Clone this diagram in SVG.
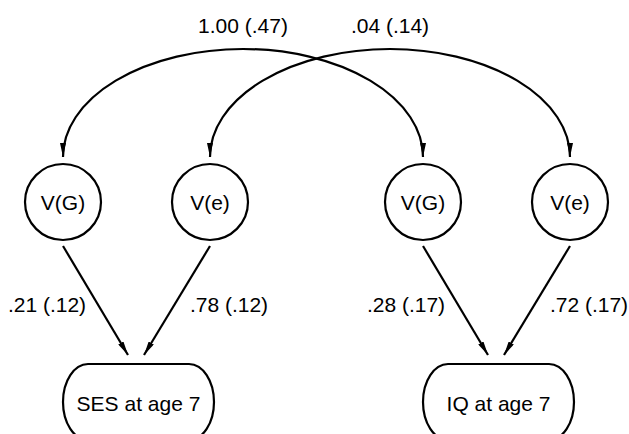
<svg xmlns="http://www.w3.org/2000/svg" width="629" height="434" viewBox="0 0 629 434">
<style>
.n{fill:#fff;stroke:#000;stroke-width:2.2}
.c{fill:none;stroke:#000;stroke-width:2.2}
text{font-family:"Liberation Sans",Arial,sans-serif;font-size:21px;fill:#000}
.m{text-anchor:middle}
</style>
<defs>
<marker id="ah" viewBox="0 0 14 6" refX="14" refY="3" markerWidth="14" markerHeight="6" markerUnits="userSpaceOnUse" orient="auto-start-reverse">
<path d="M0,0 L14,3 L0,6 z" fill="#000"/>
</marker>
</defs>
<rect width="629" height="434" fill="#fff"/>
<g id="connectors">
<path class="c" d="M63,157 A180,108 0 0 1 423,157" marker-start="url(#ah)" marker-end="url(#ah)"/>
<path class="c" d="M210,157 A180,108 0 0 1 570,157" marker-start="url(#ah)" marker-end="url(#ah)"/>
<path class="c" d="M63,246 L128,355" marker-end="url(#ah)"/>
<path class="c" d="M210,246 L144,355" marker-end="url(#ah)"/>
<path class="c" d="M423,246 L488,355" marker-end="url(#ah)"/>
<path class="c" d="M570,246 L504,355" marker-end="url(#ah)"/>
<text x="243" y="33" class="m">1.00 (.47)</text>
<text x="390" y="33" class="m">.04 (.14)</text>
<text x="47" y="312" class="m">.21 (.12)</text>
<text x="229" y="312" class="m">.78 (.12)</text>
<text x="406" y="312" class="m">.28 (.17)</text>
<text x="589" y="312" class="m">.72 (.17)</text>
</g>
<g id="vg1"><circle class="n" cx="63" cy="202" r="38"/><text x="63" y="210" class="m">V(G)</text></g>
<g id="ve1"><circle class="n" cx="210" cy="202" r="38"/><text x="210" y="210" class="m">V(e)</text></g>
<g id="vg2"><circle class="n" cx="423" cy="202" r="38"/><text x="423" y="210" class="m">V(G)</text></g>
<g id="ve2"><circle class="n" cx="570" cy="202" r="38"/><text x="570" y="210" class="m">V(e)</text></g>
<g id="ses"><rect class="n" x="63" y="364" width="151" height="76" rx="25" ry="38"/><text x="138.5" y="411" class="m">SES at age 7</text></g>
<g id="iq"><rect class="n" x="423" y="364" width="151" height="76" rx="25" ry="38"/><text x="498.5" y="411" class="m">IQ at age 7</text></g>
</svg>
